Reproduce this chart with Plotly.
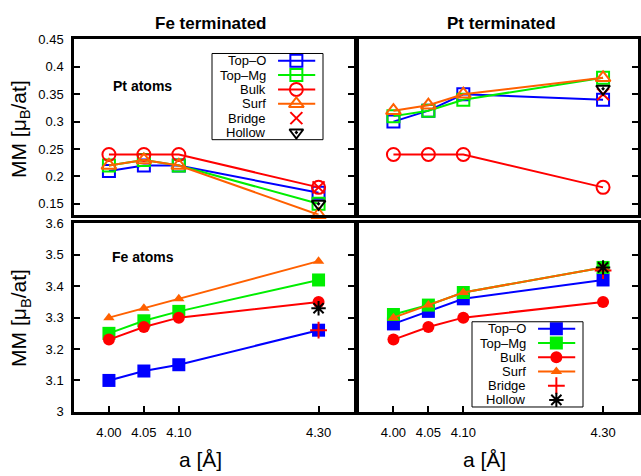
import plotly.graph_objects as go

# ---------------- data ----------------
x_a = [4.00, 4.05, 4.10, 4.30]
x_special = [4.30]

series_names = ["Top–O", "Top–Mg", "Bulk", "Surf", "Bridge", "Hollow"]

# Fe terminated, Pt atoms (top-left)
fe_pt_top_o = [0.21, 0.22, 0.22, 0.17]
fe_pt_top_mg = [0.22, 0.23, 0.22, 0.15]
fe_pt_bulk = [0.24, 0.24, 0.24, 0.18]
fe_pt_surf = [0.22, 0.23, 0.22, 0.13]
fe_pt_bridge = [0.18]
fe_pt_hollow = [0.15]

# Pt terminated, Pt atoms (top-right)
pt_pt_top_o = [0.30, 0.32, 0.35, 0.34]
pt_pt_top_mg = [0.31, 0.32, 0.34, 0.38]
pt_pt_bulk = [0.24, 0.24, 0.24, 0.18]
pt_pt_surf = [0.32, 0.33, 0.35, 0.38]
pt_pt_bridge = [0.35]
pt_pt_hollow = [0.36]

# Fe terminated, Fe atoms (bottom-left)
fe_fe_top_o = [3.10, 3.13, 3.15, 3.26]
fe_fe_top_mg = [3.25, 3.29, 3.32, 3.42]
fe_fe_bulk = [3.23, 3.27, 3.30, 3.35]
fe_fe_surf = [3.30, 3.33, 3.36, 3.48]
fe_fe_bridge = [3.26]
fe_fe_hollow = [3.33]

# Pt terminated, Fe atoms (bottom-right)
pt_fe_top_o = [3.28, 3.32, 3.36, 3.42]
pt_fe_top_mg = [3.31, 3.34, 3.38, 3.46]
pt_fe_bulk = [3.23, 3.27, 3.30, 3.35]
pt_fe_surf = [3.30, 3.34, 3.38, 3.46]
pt_fe_bridge = [3.45]
pt_fe_hollow = [3.46]

x_tick_vals = [4.00, 4.05, 4.10, 4.30]
x_tick_labels = ["4.00", "4.05", "4.10", "4.30"]
top_y_vals = [0.15, 0.20, 0.25, 0.30, 0.35, 0.40, 0.45]
top_y_labels = ["0.15", "0.2", "0.25", "0.3", "0.35", "0.4", "0.45"]
bot_y_vals = [3.0, 3.1, 3.2, 3.3, 3.4, 3.5, 3.6]
bot_y_labels = ["3", "3.1", "3.2", "3.3", "3.4", "3.5", "3.6"]

# ---------------- styles ----------------
colors = ["#0000ff", "#00ee00", "#ff0000", "#ff6000", "#ff0000", "#000000"]
open_symbols = ["square-open", "square-open", "circle-open", "triangle-up-open",
                "x-thin-open", "triangle-down-open-dot"]
filled_symbols = ["square", "square", "circle", "triangle-up",
                  "cross-thin-open", "asterisk-open"]
open_sizes = [12, 12, 13, 13, 12, 12]
filled_sizes = [13, 13, 12, 10, 12, 12]
has_line = [True, True, True, True, False, False]
FONT = "Liberation Sans, Arial, sans-serif"

W, H = 641, 476
def px(x):
    return x / W
def py(y):
    return 1 - y / H

XL = [px(74), px(353.5)]
XR = [px(358.5), px(638)]
YT = [py(214.5), py(33.5)]
YB = [py(418), py(223.5)]

fig = go.Figure()

panels = [
    ("x", "y", [fe_pt_top_o, fe_pt_top_mg, fe_pt_bulk, fe_pt_surf, fe_pt_bridge, fe_pt_hollow], True),
    ("x2", "y2", [pt_pt_top_o, pt_pt_top_mg, pt_pt_bulk, pt_pt_surf, pt_pt_bridge, pt_pt_hollow], True),
    ("x3", "y3", [fe_fe_top_o, fe_fe_top_mg, fe_fe_bulk, fe_fe_surf, fe_fe_bridge, fe_fe_hollow], False),
    ("x4", "y4", [pt_fe_top_o, pt_fe_top_mg, pt_fe_bulk, pt_fe_surf, pt_fe_bridge, pt_fe_hollow], False),
]

def marker_style(i, is_open):
    if is_open:
        return dict(symbol=open_symbols[i], size=open_sizes[i], color=colors[i],
                    line=dict(color=colors[i], width=2))
    sym = filled_symbols[i]
    lw = 2 if sym.endswith("open") else 0
    return dict(symbol=sym, size=filled_sizes[i], color=colors[i],
                line=dict(color=colors[i], width=lw))

for xa, ya, series, is_open in panels:
    for i, vals in enumerate(series):
        xs = x_a if has_line[i] else x_special
        fig.add_trace(go.Scatter(
            x=xs, y=vals, xaxis=xa, yaxis=ya, name=series_names[i],
            mode="lines+markers" if has_line[i] else "markers",
            line=dict(color=colors[i], width=2),
            marker=marker_style(i, is_open),
            cliponaxis=False, showlegend=False, hoverinfo="skip",
        ))

# ---------------- hand-made gnuplot-style keys ----------------
legend_boxes = [
    ("x5", "y5", [px(212), px(323)], [py(137), py(48)], True),
    ("x6", "y6", [px(472), px(583)], [py(413), py(325)], False),
]
n_rows = len(series_names)
for xa, ya, dx, dy, is_open in legend_boxes:
    for i, name in enumerate(series_names):
        if has_line[i]:
            fig.add_trace(go.Scatter(
                x=[0.595, 0.93], y=[i, i], xaxis=xa, yaxis=ya, mode="lines",
                line=dict(color=colors[i], width=2), showlegend=False, hoverinfo="skip"))
        fig.add_trace(go.Scatter(
            x=[0.76], y=[i], xaxis=xa, yaxis=ya, mode="markers",
            marker=marker_style(i, is_open), showlegend=False, hoverinfo="skip"))
        fig.add_annotation(x=0.505, y=i, xref=xa, yref=ya, text=name, showarrow=False,
                           xanchor="right", yanchor="middle",
                           font=dict(family=FONT, size=13, color="black"))
    fig.add_shape(type="rect", xref=xa + " domain", yref=ya + " domain",
                  x0=0, x1=1, y0=0, y1=1, line=dict(color="black", width=1))

frame = dict(showline=True, linecolor="black", linewidth=2.5, mirror=True,
             showgrid=False, zeroline=False, fixedrange=True,
             tickfont=dict(family=FONT, size=13, color="black"),
             tickcolor="black", tickwidth=1.5, ticklen=6)

xcommon = dict(range=[3.95, 4.35], **frame)
fig.update_layout(
    xaxis=dict(domain=XL, anchor="y", ticks="", showticklabels=False, **xcommon),
    xaxis2=dict(domain=XR, anchor="y2", ticks="", showticklabels=False, **xcommon),
    xaxis3=dict(domain=XL, anchor="y3", ticks="inside", tickvals=x_tick_vals,
                ticktext=x_tick_labels, ticklabelstandoff=7, **xcommon),
    xaxis4=dict(domain=XR, anchor="y4", ticks="inside", tickvals=x_tick_vals,
                ticktext=x_tick_labels, ticklabelstandoff=7, **xcommon),
)
frame_y = dict(frame)
frame_y.pop("mirror")
fig.update_layout(
    yaxis=dict(domain=YT, anchor="x", range=[0.13, 0.45], ticks="inside", mirror="ticks",
               tickvals=top_y_vals, ticktext=top_y_labels, ticklabelstandoff=5, **frame_y),
    yaxis2=dict(domain=YT, anchor="x2", range=[0.13, 0.45], ticks="inside", side="right",
                mirror=True, tickvals=top_y_vals, showticklabels=False, **frame_y),
    yaxis3=dict(domain=YB, anchor="x3", range=[3.0, 3.6], ticks="inside", mirror="ticks",
                tickvals=bot_y_vals, ticktext=bot_y_labels, ticklabelstandoff=5, **frame_y),
    yaxis4=dict(domain=YB, anchor="x4", range=[3.0, 3.6], ticks="inside", side="right",
                mirror=True, tickvals=bot_y_vals, showticklabels=False, **frame_y),
)
hidden = dict(showline=False, showgrid=False, zeroline=False, ticks="",
              showticklabels=False, fixedrange=True)
for k, (xa, ya, dx, dy, _) in zip([5, 6], legend_boxes):
    fig.update_layout(**{
        f"xaxis{k}": dict(domain=dx, anchor=ya, range=[0, 1], **hidden),
        f"yaxis{k}": dict(domain=dy, anchor=xa, range=[n_rows - 0.5, -0.5], **hidden),
    })

# ---------------- texts ----------------
texts = [
    (210, 17, "<b>Fe terminated</b>", 17, 0),
    (501, 17, "<b>Pt terminated</b>", 17, 0),
    (142, 82, "<b>Pt atoms</b>", 14, 0),
    (143, 258, "<b>Fe atoms</b>", 14, 0),
    (200, 467, "a [Å]", 21, 0),
    (484, 467, "a [Å]", 21, 0),
    (20, 126, "MM [μ<sub>B</sub>/at]", 21, -90),
    (20, 321, "MM [μ<sub>B</sub>/at]", 21, -90),
]
for x, y, t, s, ang in texts:
    fig.add_annotation(x=px(x), y=py(y), xref="paper", yref="paper", text=t,
                       showarrow=False, textangle=ang, xanchor="center", yanchor="middle",
                       font=dict(family=FONT, size=s, color="black"))

fig.update_layout(width=W, height=H, autosize=False,
                  margin=dict(l=0, r=0, t=0, b=0),
                  paper_bgcolor="white", plot_bgcolor="white",
                  showlegend=False)

fig.write_html("out.html")
